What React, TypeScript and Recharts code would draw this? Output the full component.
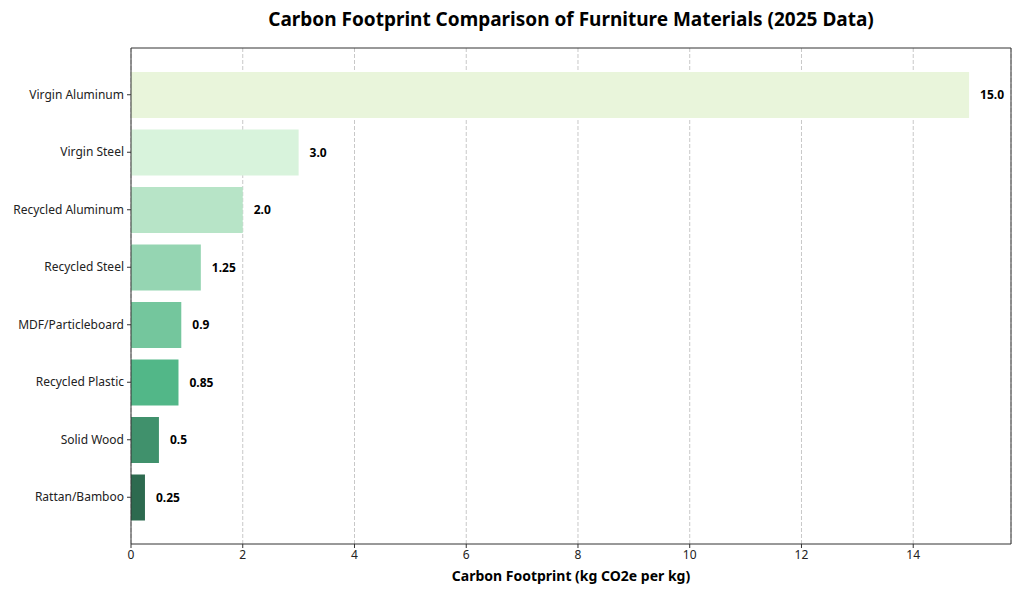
import React from "react";
import { BarChart, Bar, XAxis, YAxis, CartesianGrid, LabelList, Cell } from "recharts";

const materials = [
  "Virgin Aluminum",
  "Virgin Steel",
  "Recycled Aluminum",
  "Recycled Steel",
  "MDF/Particleboard",
  "Recycled Plastic",
  "Solid Wood",
  "Rattan/Bamboo",
];
const footprints = [15.0, 3.0, 2.0, 1.25, 0.9, 0.85, 0.5, 0.25];
const valueLabels = ["15.0", "3.0", "2.0", "1.25", "0.9", "0.85", "0.5", "0.25"];
const barColors = ["#e9f5db", "#d8f3dc", "#b7e4c7", "#95d5b2", "#74c69d", "#52b788", "#40916c", "#2d6a4f"];
const xTicks = [0, 2, 4, 6, 8, 10, 12, 14];

const data = materials.map((name, i) => ({ name, value: footprints[i], label: valueLabels[i] }));

const FONT = "'Noto Sans', 'DejaVu Sans', sans-serif";

const CategoryTick = (props: any) => {
  const { x, y, payload } = props;
  return (
    <text x={x} y={y} dy={4} textAnchor="end" fontSize={12} fill="#222" fontFamily={FONT}>
      {payload.value}
    </text>
  );
};

export default function App() {
  return (
    <div style={{ position: "fixed", left: 0, top: 0, width: 1024, height: 597, background: "#fff", fontFamily: FONT }}>
      <div
        style={{
          position: "absolute",
          left: 131,
          width: 880,
          top: 6,
          textAlign: "center",
          fontSize: 19,
          fontWeight: 700,
          color: "#000",
        }}
      >
        Carbon Footprint Comparison of Furniture Materials (2025 Data)
      </div>
      <BarChart
        width={1024}
        height={597}
        data={data}
        layout="vertical"
        margin={{ top: 47, right: 12, bottom: 0, left: 0 }}
        style={{ fontFamily: FONT }}
      >
        <CartesianGrid horizontal={false} vertical={true} stroke="#c8c8c8" strokeDasharray="4 2" />
        <XAxis
          type="number"
          domain={[0, 15.75]}
          ticks={xTicks}
          allowDataOverflow
          height={53}
          tickSize={4}
          tickMargin={2}
          stroke="#333"
          tick={{ fill: "#222", fontSize: 12 }}
          label={{
            value: "Carbon Footprint (kg CO2e per kg)",
            position: "insideBottom",
            offset: 16,
            style: { fontSize: 14, fontWeight: 700, fill: "#000" },
          }}
        />
        <XAxis
          xAxisId="top"
          type="number"
          orientation="top"
          domain={[0, 15.75]}
          height={1}
          tick={false}
          tickLine={false}
          axisLine={{ stroke: "#333" }}
        />
        <YAxis
          type="category"
          dataKey="name"
          width={131}
          padding={{ top: 18, bottom: 18 }}
          tickSize={4}
          tickMargin={3}
          stroke="#333"
          tick={<CategoryTick />}
        />
        <YAxis
          yAxisId="right"
          type="category"
          dataKey="name"
          orientation="right"
          width={1}
          tick={false}
          tickLine={false}
          axisLine={{ stroke: "#333" }}
        />
        <Bar dataKey="value" barSize={46} isAnimationActive={false}>
          {data.map((d, i) => (
            <Cell key={d.name} fill={barColors[i]} />
          ))}
          <LabelList dataKey="label" position="right" offset={11} style={{ fontSize: 12, fontWeight: 700, fill: "#000" }} />
        </Bar>
      </BarChart>
    </div>
  );
}
